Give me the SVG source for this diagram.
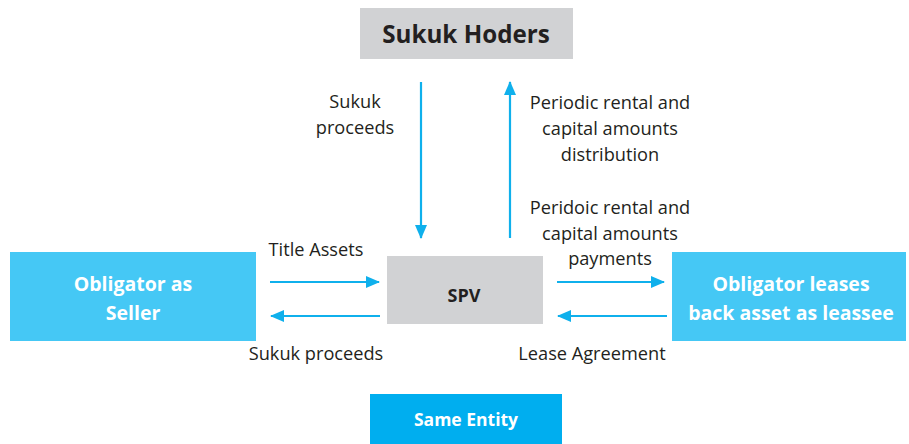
<svg xmlns="http://www.w3.org/2000/svg" width="909" height="444" viewBox="0 0 909 444">
<style>
.lbl{font-family:"Open Sans","Liberation Sans",sans-serif;font-size:18.2px;fill:#231f20;text-anchor:middle}
.bt{font-family:"Open Sans","Liberation Sans",sans-serif;font-weight:bold;text-anchor:middle}
.w{fill:#ffffff}
.d{fill:#231f20}
.c{stroke:#0fb0ec;stroke-width:2.2;fill:none;marker-end:url(#ah)}
</style>
<defs>
<marker id="ah" viewBox="0 0 14 12" refX="13" refY="6" markerWidth="14" markerHeight="12" markerUnits="userSpaceOnUse" orient="auto">
<path d="M0,0 L14,6 L0,12 Z" fill="#0fb0ec"/>
</marker>
</defs>
<rect width="909" height="444" fill="#ffffff"/>
<g id="sukuk-holders">
<rect x="360" y="8" width="213" height="51" fill="#d1d2d4"/>
<text class="bt d" x="466" y="43" font-size="24.2">Sukuk Hoders</text>
</g>
<g id="obligator-seller">
<rect x="10" y="252" width="246" height="89" fill="#45c8f5"/>
<text class="bt w" x="133" y="291" font-size="19.5">Obligator as</text>
<text class="bt w" x="133" y="320" font-size="19.5">Seller</text>
</g>
<g id="spv">
<rect x="387" y="256" width="156" height="68" fill="#d1d2d4"/>
<text class="bt d" x="464" y="302" font-size="18">SPV</text>
</g>
<g id="obligator-lessee">
<rect x="672" y="252" width="234" height="89" fill="#45c8f5"/>
<text class="bt w" x="791" y="291" font-size="19.5">Obligator leases</text>
<text class="bt w" x="791" y="320" font-size="19.5">back asset as leassee</text>
</g>
<g id="same-entity">
<rect x="370" y="394" width="192" height="50" fill="#00aeef"/>
<text class="bt w" x="466" y="426" font-size="17.5">Same Entity</text>
</g>
<g id="connectors">
<line class="c" x1="421" y1="82" x2="421" y2="238"/>
<line class="c" x1="510" y1="238" x2="510" y2="82"/>
<line class="c" x1="270" y1="282" x2="379" y2="282"/>
<line class="c" x1="380" y1="316" x2="271" y2="316"/>
<line class="c" x1="557" y1="282" x2="664" y2="282"/>
<line class="c" x1="667" y1="316" x2="558" y2="316"/>
</g>
<g id="labels">
<text class="lbl" x="355" y="108">Sukuk</text>
<text class="lbl" x="355" y="134">proceeds</text>
<text class="lbl" x="610" y="109">Periodic rental and</text>
<text class="lbl" x="610" y="135">capital amounts</text>
<text class="lbl" x="610" y="161">distribution</text>
<text class="lbl" x="610" y="214">Peridoic rental and</text>
<text class="lbl" x="610" y="240">capital amounts</text>
<text class="lbl" x="610" y="265">payments</text>
<text class="lbl" x="316" y="256">Title Assets</text>
<text class="lbl" x="316" y="360">Sukuk proceeds</text>
<text class="lbl" x="592" y="360">Lease Agreement</text>
</g>
</svg>
